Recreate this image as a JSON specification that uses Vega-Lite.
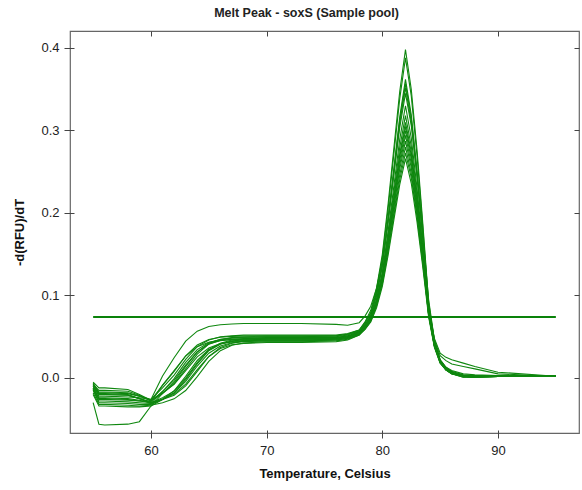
{
"$schema": "https://vega.github.io/schema/vega-lite/v6.json",
"width": 509, "height": 402,
"autosize": {"type": "none"},
"padding": {"left": 70, "top": 31, "right": 3, "bottom": 57},
"background": "white",
"title": {"text": "Melt Peak - soxS (Sample pool)", "fontSize": 12.5, "fontWeight": "bold", "font": "Liberation Sans", "color": "#222", "offset": 11, "dx": -18},
"config": {
  "view": {"stroke": "#666", "strokeWidth": 1.2},
  "axis": {"grid": false, "domain": false, "labelFont": "Liberation Sans", "titleFont": "Liberation Sans", "labelFontSize": 13, "titleFontSize": 13, "titleFontWeight": "bold", "labelColor": "#222", "titleColor": "#111", "tickColor": "#444", "tickWidth": 1}
},
"layer": [
{
"data": {"values": [
{"c":1,"t":55,"v":-0.008},{"c":1,"t":55.5,"v":-0.015},{"c":1,"t":56,"v":-0.015},{"c":1,"t":58,"v":-0.016},{"c":1,"t":59,"v":-0.021},{"c":1,"t":60,"v":-0.028},{"c":1,"t":61,"v":-0.019},{"c":1,"t":62,"v":-0.007},{"c":1,"t":63,"v":0.011},{"c":1,"t":64,"v":0.029},{"c":1,"t":65,"v":0.041},{"c":1,"t":66,"v":0.046},{"c":1,"t":67,"v":0.049},{"c":1,"t":68,"v":0.0495},{"c":1,"t":70,"v":0.05},{"c":1,"t":73,"v":0.05},{"c":1,"t":76,"v":0.051},{"c":1,"t":77,"v":0.053},{"c":1,"t":78,"v":0.058},{"c":1,"t":78.5,"v":0.068},{"c":1,"t":79,"v":0.082},{"c":1,"t":79.5,"v":0.109},{"c":1,"t":80,"v":0.15},{"c":1,"t":80.5,"v":0.211},{"c":1,"t":81,"v":0.279},{"c":1,"t":81.5,"v":0.347},{"c":1,"t":82,"v":0.398},{"c":1,"t":82.5,"v":0.35},{"c":1,"t":83,"v":0.276},{"c":1,"t":83.5,"v":0.187},{"c":1,"t":84,"v":0.092},{"c":1,"t":84.5,"v":0.045},{"c":1,"t":85,"v":0.022},{"c":1,"t":85.5,"v":0.013},{"c":1,"t":86,"v":0.009},{"c":1,"t":87,"v":0.005},{"c":1,"t":88,"v":0.004},{"c":1,"t":90,"v":0.003},{"c":1,"t":95,"v":0.002},
{"c":2,"t":55,"v":-0.01},{"c":2,"t":55.5,"v":-0.02},{"c":2,"t":56,"v":-0.02},{"c":2,"t":58,"v":-0.021},{"c":2,"t":59,"v":-0.025},{"c":2,"t":60,"v":-0.03},{"c":2,"t":61,"v":-0.024},{"c":2,"t":62,"v":-0.016},{"c":2,"t":63,"v":-0.0005},{"c":2,"t":64,"v":0.0185},{"c":2,"t":65,"v":0.034},{"c":2,"t":66,"v":0.042},{"c":2,"t":67,"v":0.046},{"c":2,"t":68,"v":0.047},{"c":2,"t":70,"v":0.048},{"c":2,"t":73,"v":0.048},{"c":2,"t":76,"v":0.049},{"c":2,"t":77,"v":0.051},{"c":2,"t":78,"v":0.056},{"c":2,"t":78.5,"v":0.066},{"c":2,"t":79,"v":0.079},{"c":2,"t":79.5,"v":0.106},{"c":2,"t":80,"v":0.146},{"c":2,"t":80.5,"v":0.205},{"c":2,"t":81,"v":0.272},{"c":2,"t":81.5,"v":0.338},{"c":2,"t":82,"v":0.388},{"c":2,"t":82.5,"v":0.342},{"c":2,"t":83,"v":0.269},{"c":2,"t":83.5,"v":0.182},{"c":2,"t":84,"v":0.089},{"c":2,"t":84.5,"v":0.043},{"c":2,"t":85,"v":0.021},{"c":2,"t":85.5,"v":0.012},{"c":2,"t":86,"v":0.007},{"c":2,"t":87,"v":0.003},{"c":2,"t":88,"v":0.003},{"c":2,"t":90,"v":0.003},{"c":2,"t":95,"v":0.002},
{"c":3,"t":55,"v":-0.012},{"c":3,"t":55.5,"v":-0.025},{"c":3,"t":56,"v":-0.025},{"c":3,"t":58,"v":-0.026},{"c":3,"t":59,"v":-0.028},{"c":3,"t":60,"v":-0.03},{"c":3,"t":61,"v":-0.026},{"c":3,"t":62,"v":-0.021},{"c":3,"t":63,"v":-0.0096},{"c":3,"t":64,"v":0.008},{"c":3,"t":65,"v":0.026},{"c":3,"t":66,"v":0.037},{"c":3,"t":67,"v":0.042},{"c":3,"t":68,"v":0.045},{"c":3,"t":70,"v":0.046},{"c":3,"t":73,"v":0.046},{"c":3,"t":76,"v":0.047},{"c":3,"t":77,"v":0.049},{"c":3,"t":78,"v":0.054},{"c":3,"t":78.5,"v":0.063},{"c":3,"t":79,"v":0.076},{"c":3,"t":79.5,"v":0.1},{"c":3,"t":80,"v":0.137},{"c":3,"t":80.5,"v":0.193},{"c":3,"t":81,"v":0.254},{"c":3,"t":81.5,"v":0.316},{"c":3,"t":82,"v":0.362},{"c":3,"t":82.5,"v":0.319},{"c":3,"t":83,"v":0.251},{"c":3,"t":83.5,"v":0.171},{"c":3,"t":84,"v":0.085},{"c":3,"t":84.5,"v":0.048},{"c":3,"t":85,"v":0.03},{"c":3,"t":85.5,"v":0.025},{"c":3,"t":86,"v":0.022},{"c":3,"t":87,"v":0.018},{"c":3,"t":88,"v":0.014},{"c":3,"t":90,"v":0.007},{"c":3,"t":95,"v":0.002},
{"c":4,"t":55,"v":-0.006},{"c":4,"t":55.5,"v":-0.018},{"c":4,"t":56,"v":-0.018},{"c":4,"t":58,"v":-0.019},{"c":4,"t":59,"v":-0.022},{"c":4,"t":60,"v":-0.026},{"c":4,"t":61,"v":-0.012},{"c":4,"t":62,"v":0.0035},{"c":4,"t":63,"v":0.0225},{"c":4,"t":64,"v":0.038},{"c":4,"t":65,"v":0.046},{"c":4,"t":66,"v":0.05},{"c":4,"t":67,"v":0.051},{"c":4,"t":68,"v":0.052},{"c":4,"t":70,"v":0.052},{"c":4,"t":73,"v":0.052},{"c":4,"t":76,"v":0.052},{"c":4,"t":77,"v":0.054},{"c":4,"t":78,"v":0.058},{"c":4,"t":78.5,"v":0.067},{"c":4,"t":79,"v":0.079},{"c":4,"t":79.5,"v":0.103},{"c":4,"t":80,"v":0.139},{"c":4,"t":80.5,"v":0.193},{"c":4,"t":81,"v":0.252},{"c":4,"t":81.5,"v":0.312},{"c":4,"t":82,"v":0.357},{"c":4,"t":82.5,"v":0.315},{"c":4,"t":83,"v":0.249},{"c":4,"t":83.5,"v":0.172},{"c":4,"t":84,"v":0.088},{"c":4,"t":84.5,"v":0.041},{"c":4,"t":85,"v":0.02},{"c":4,"t":85.5,"v":0.011},{"c":4,"t":86,"v":0.006},{"c":4,"t":87,"v":0.002},{"c":4,"t":88,"v":0.002},{"c":4,"t":90,"v":0.003},{"c":4,"t":95,"v":0.003},
{"c":5,"t":55,"v":-0.015},{"c":5,"t":55.5,"v":-0.03},{"c":5,"t":56,"v":-0.03},{"c":5,"t":58,"v":-0.031},{"c":5,"t":59,"v":-0.032},{"c":5,"t":60,"v":-0.032},{"c":5,"t":61,"v":-0.026},{"c":5,"t":62,"v":-0.018},{"c":5,"t":63,"v":-0.002},{"c":5,"t":64,"v":0.017},{"c":5,"t":65,"v":0.033},{"c":5,"t":66,"v":0.041},{"c":5,"t":67,"v":0.045},{"c":5,"t":68,"v":0.046},{"c":5,"t":70,"v":0.047},{"c":5,"t":73,"v":0.047},{"c":5,"t":76,"v":0.048},{"c":5,"t":77,"v":0.05},{"c":5,"t":78,"v":0.055},{"c":5,"t":78.5,"v":0.064},{"c":5,"t":79,"v":0.076},{"c":5,"t":79.5,"v":0.1},{"c":5,"t":80,"v":0.135},{"c":5,"t":80.5,"v":0.189},{"c":5,"t":81,"v":0.248},{"c":5,"t":81.5,"v":0.308},{"c":5,"t":82,"v":0.352},{"c":5,"t":82.5,"v":0.31},{"c":5,"t":83,"v":0.245},{"c":5,"t":83.5,"v":0.168},{"c":5,"t":84,"v":0.085},{"c":5,"t":84.5,"v":0.046},{"c":5,"t":85,"v":0.027},{"c":5,"t":85.5,"v":0.021},{"c":5,"t":86,"v":0.017},{"c":5,"t":87,"v":0.014},{"c":5,"t":88,"v":0.011},{"c":5,"t":90,"v":0.005},{"c":5,"t":95,"v":0.002},
{"c":6,"t":55,"v":-0.01},{"c":6,"t":55.5,"v":-0.022},{"c":6,"t":56,"v":-0.022},{"c":6,"t":58,"v":-0.023},{"c":6,"t":59,"v":-0.024},{"c":6,"t":60,"v":-0.026},{"c":6,"t":61,"v":0.0025},{"c":6,"t":62,"v":0.0246},{"c":6,"t":63,"v":0.0447},{"c":6,"t":64,"v":0.0568},{"c":6,"t":65,"v":0.0624},{"c":6,"t":66,"v":0.0646},{"c":6,"t":67,"v":0.0655},{"c":6,"t":68,"v":0.066},{"c":6,"t":70,"v":0.066},{"c":6,"t":73,"v":0.066},{"c":6,"t":76,"v":0.065},{"c":6,"t":77,"v":0.064},{"c":6,"t":78,"v":0.067},{"c":6,"t":78.5,"v":0.075},{"c":6,"t":79,"v":0.087},{"c":6,"t":79.5,"v":0.109},{"c":6,"t":80,"v":0.142},{"c":6,"t":80.5,"v":0.192},{"c":6,"t":81,"v":0.248},{"c":6,"t":81.5,"v":0.303},{"c":6,"t":82,"v":0.345},{"c":6,"t":82.5,"v":0.306},{"c":6,"t":83,"v":0.245},{"c":6,"t":83.5,"v":0.173},{"c":6,"t":84,"v":0.095},{"c":6,"t":84.5,"v":0.046},{"c":6,"t":85,"v":0.022},{"c":6,"t":85.5,"v":0.013},{"c":6,"t":86,"v":0.008},{"c":6,"t":87,"v":0.004},{"c":6,"t":88,"v":0.003},{"c":6,"t":90,"v":0.003},{"c":6,"t":95,"v":0.002},
{"c":7,"t":55,"v":-0.005},{"c":7,"t":55.5,"v":-0.012},{"c":7,"t":56,"v":-0.012},{"c":7,"t":58,"v":-0.014},{"c":7,"t":59,"v":-0.02},{"c":7,"t":60,"v":-0.027},{"c":7,"t":61,"v":-0.018},{"c":7,"t":62,"v":-0.0076},{"c":7,"t":63,"v":0.009},{"c":7,"t":64,"v":0.0256},{"c":7,"t":65,"v":0.0364},{"c":7,"t":66,"v":0.0416},{"c":7,"t":67,"v":0.0437},{"c":7,"t":68,"v":0.0445},{"c":7,"t":70,"v":0.045},{"c":7,"t":73,"v":0.045},{"c":7,"t":76,"v":0.046},{"c":7,"t":77,"v":0.048},{"c":7,"t":78,"v":0.053},{"c":7,"t":78.5,"v":0.061},{"c":7,"t":79,"v":0.072},{"c":7,"t":79.5,"v":0.095},{"c":7,"t":80,"v":0.128},{"c":7,"t":80.5,"v":0.178},{"c":7,"t":81,"v":0.233},{"c":7,"t":81.5,"v":0.289},{"c":7,"t":82,"v":0.33},{"c":7,"t":82.5,"v":0.291},{"c":7,"t":83,"v":0.23},{"c":7,"t":83.5,"v":0.158},{"c":7,"t":84,"v":0.081},{"c":7,"t":84.5,"v":0.04},{"c":7,"t":85,"v":0.019},{"c":7,"t":85.5,"v":0.01},{"c":7,"t":86,"v":0.005},{"c":7,"t":87,"v":0.001},{"c":7,"t":88,"v":0.001},{"c":7,"t":90,"v":0.002},{"c":7,"t":95,"v":0.002},
{"c":8,"t":55,"v":-0.014},{"c":8,"t":55.5,"v":-0.028},{"c":8,"t":56,"v":-0.028},{"c":8,"t":58,"v":-0.029},{"c":8,"t":59,"v":-0.03},{"c":8,"t":60,"v":-0.031},{"c":8,"t":61,"v":-0.0164},{"c":8,"t":62,"v":-0.0008},{"c":8,"t":63,"v":0.0188},{"c":8,"t":64,"v":0.0344},{"c":8,"t":65,"v":0.0429},{"c":8,"t":66,"v":0.0467},{"c":8,"t":67,"v":0.0481},{"c":8,"t":68,"v":0.0486},{"c":8,"t":70,"v":0.049},{"c":8,"t":73,"v":0.049},{"c":8,"t":76,"v":0.049},{"c":8,"t":77,"v":0.051},{"c":8,"t":78,"v":0.056},{"c":8,"t":78.5,"v":0.064},{"c":8,"t":79,"v":0.074},{"c":8,"t":79.5,"v":0.095},{"c":8,"t":80,"v":0.127},{"c":8,"t":80.5,"v":0.174},{"c":8,"t":81,"v":0.226},{"c":8,"t":81.5,"v":0.279},{"c":8,"t":82,"v":0.318},{"c":8,"t":82.5,"v":0.281},{"c":8,"t":83,"v":0.224},{"c":8,"t":83.5,"v":0.156},{"c":8,"t":84,"v":0.082},{"c":8,"t":84.5,"v":0.042},{"c":8,"t":85,"v":0.021},{"c":8,"t":85.5,"v":0.012},{"c":8,"t":86,"v":0.007},{"c":8,"t":87,"v":0.003},{"c":8,"t":88,"v":0.002},{"c":8,"t":90,"v":0.003},{"c":8,"t":95,"v":0.002},
{"c":9,"t":55,"v":-0.018},{"c":9,"t":55.5,"v":-0.032},{"c":9,"t":56,"v":-0.032},{"c":9,"t":58,"v":-0.033},{"c":9,"t":59,"v":-0.034},{"c":9,"t":60,"v":-0.033},{"c":9,"t":61,"v":-0.03},{"c":9,"t":62,"v":-0.0253},{"c":9,"t":63,"v":-0.0152},{"c":9,"t":64,"v":0.0017},{"c":9,"t":65,"v":0.0201},{"c":9,"t":66,"v":0.0331},{"c":9,"t":67,"v":0.0396},{"c":9,"t":68,"v":0.0423},{"c":9,"t":70,"v":0.044},{"c":9,"t":73,"v":0.044},{"c":9,"t":76,"v":0.045},{"c":9,"t":77,"v":0.047},{"c":9,"t":78,"v":0.052},{"c":9,"t":78.5,"v":0.06},{"c":9,"t":79,"v":0.07},{"c":9,"t":79.5,"v":0.091},{"c":9,"t":80,"v":0.122},{"c":9,"t":80.5,"v":0.168},{"c":9,"t":81,"v":0.22},{"c":9,"t":81.5,"v":0.271},{"c":9,"t":82,"v":0.31},{"c":9,"t":82.5,"v":0.274},{"c":9,"t":83,"v":0.217},{"c":9,"t":83.5,"v":0.15},{"c":9,"t":84,"v":0.078},{"c":9,"t":84.5,"v":0.039},{"c":9,"t":85,"v":0.019},{"c":9,"t":85.5,"v":0.011},{"c":9,"t":86,"v":0.006},{"c":9,"t":87,"v":0.002},{"c":9,"t":88,"v":0.001},{"c":9,"t":90,"v":0.002},{"c":9,"t":95,"v":0.002},
{"c":10,"t":55,"v":-0.03},{"c":10,"t":55.5,"v":-0.056},{"c":10,"t":56,"v":-0.057},{"c":10,"t":58,"v":-0.056},{"c":10,"t":59,"v":-0.053},{"c":10,"t":60,"v":-0.034},{"c":10,"t":61,"v":-0.0186},{"c":10,"t":62,"v":-0.0052},{"c":10,"t":63,"v":0.014},{"c":10,"t":64,"v":0.0315},{"c":10,"t":65,"v":0.042},{"c":10,"t":66,"v":0.0469},{"c":10,"t":67,"v":0.0488},{"c":10,"t":68,"v":0.0496},{"c":10,"t":70,"v":0.05},{"c":10,"t":73,"v":0.05},{"c":10,"t":76,"v":0.05},{"c":10,"t":77,"v":0.052},{"c":10,"t":78,"v":0.057},{"c":10,"t":78.5,"v":0.064},{"c":10,"t":79,"v":0.074},{"c":10,"t":79.5,"v":0.094},{"c":10,"t":80,"v":0.124},{"c":10,"t":80.5,"v":0.169},{"c":10,"t":81,"v":0.218},{"c":10,"t":81.5,"v":0.268},{"c":10,"t":82,"v":0.305},{"c":10,"t":82.5,"v":0.27},{"c":10,"t":83,"v":0.216},{"c":10,"t":83.5,"v":0.151},{"c":10,"t":84,"v":0.082},{"c":10,"t":84.5,"v":0.041},{"c":10,"t":85,"v":0.02},{"c":10,"t":85.5,"v":0.011},{"c":10,"t":86,"v":0.006},{"c":10,"t":87,"v":0.003},{"c":10,"t":88,"v":0.002},{"c":10,"t":90,"v":0.003},{"c":10,"t":95,"v":0.003},
{"c":11,"t":55,"v":-0.008},{"c":11,"t":55.5,"v":-0.02},{"c":11,"t":56,"v":-0.02},{"c":11,"t":58,"v":-0.021},{"c":11,"t":59,"v":-0.025},{"c":11,"t":60,"v":-0.029},{"c":11,"t":61,"v":-0.0086},{"c":11,"t":62,"v":0.009},{"c":11,"t":63,"v":0.0266},{"c":11,"t":64,"v":0.038},{"c":11,"t":65,"v":0.0434},{"c":11,"t":66,"v":0.0456},{"c":11,"t":67,"v":0.0465},{"c":11,"t":68,"v":0.0469},{"c":11,"t":70,"v":0.047},{"c":11,"t":73,"v":0.047},{"c":11,"t":76,"v":0.048},{"c":11,"t":77,"v":0.05},{"c":11,"t":78,"v":0.055},{"c":11,"t":78.5,"v":0.062},{"c":11,"t":79,"v":0.072},{"c":11,"t":79.5,"v":0.092},{"c":11,"t":80,"v":0.121},{"c":11,"t":80.5,"v":0.165},{"c":11,"t":81,"v":0.214},{"c":11,"t":81.5,"v":0.263},{"c":11,"t":82,"v":0.3},{"c":11,"t":82.5,"v":0.266},{"c":11,"t":83,"v":0.212},{"c":11,"t":83.5,"v":0.148},{"c":11,"t":84,"v":0.08},{"c":11,"t":84.5,"v":0.04},{"c":11,"t":85,"v":0.019},{"c":11,"t":85.5,"v":0.01},{"c":11,"t":86,"v":0.005},{"c":11,"t":87,"v":0.002},{"c":11,"t":88,"v":0.002},{"c":11,"t":90,"v":0.002},{"c":11,"t":95,"v":0.002},
{"c":12,"t":55,"v":-0.012},{"c":12,"t":55.5,"v":-0.024},{"c":12,"t":56,"v":-0.024},{"c":12,"t":58,"v":-0.025},{"c":12,"t":59,"v":-0.027},{"c":12,"t":60,"v":-0.03},{"c":12,"t":61,"v":-0.0258},{"c":12,"t":62,"v":-0.0196},{"c":12,"t":63,"v":-0.0074},{"c":12,"t":64,"v":0.0102},{"c":12,"t":65,"v":0.0261},{"c":12,"t":66,"v":0.0357},{"c":12,"t":67,"v":0.0402},{"c":12,"t":68,"v":0.0419},{"c":12,"t":70,"v":0.043},{"c":12,"t":73,"v":0.043},{"c":12,"t":76,"v":0.044},{"c":12,"t":77,"v":0.046},{"c":12,"t":78,"v":0.052},{"c":12,"t":78.5,"v":0.059},{"c":12,"t":79,"v":0.069},{"c":12,"t":79.5,"v":0.088},{"c":12,"t":80,"v":0.117},{"c":12,"t":80.5,"v":0.161},{"c":12,"t":81,"v":0.209},{"c":12,"t":81.5,"v":0.258},{"c":12,"t":82,"v":0.294},{"c":12,"t":82.5,"v":0.26},{"c":12,"t":83,"v":0.207},{"c":12,"t":83.5,"v":0.144},{"c":12,"t":84,"v":0.076},{"c":12,"t":84.5,"v":0.038},{"c":12,"t":85,"v":0.018},{"c":12,"t":85.5,"v":0.01},{"c":12,"t":86,"v":0.005},{"c":12,"t":87,"v":0.002},{"c":12,"t":88,"v":0.001},{"c":12,"t":90,"v":0.002},{"c":12,"t":95,"v":0.002},
{"c":13,"t":55,"v":-0.007},{"c":13,"t":55.5,"v":-0.017},{"c":13,"t":56,"v":-0.017},{"c":13,"t":58,"v":-0.018},{"c":13,"t":59,"v":-0.022},{"c":13,"t":60,"v":-0.027},{"c":13,"t":61,"v":-0.009},{"c":13,"t":62,"v":0.0081},{"c":13,"t":63,"v":0.0268},{"c":13,"t":64,"v":0.0399},{"c":13,"t":65,"v":0.0466},{"c":13,"t":66,"v":0.0493},{"c":13,"t":67,"v":0.0504},{"c":13,"t":68,"v":0.0508},{"c":13,"t":70,"v":0.051},{"c":13,"t":73,"v":0.051},{"c":13,"t":76,"v":0.051},{"c":13,"t":77,"v":0.053},{"c":13,"t":78,"v":0.057},{"c":13,"t":78.5,"v":0.064},{"c":13,"t":79,"v":0.073},{"c":13,"t":79.5,"v":0.092},{"c":13,"t":80,"v":0.119},{"c":13,"t":80.5,"v":0.161},{"c":13,"t":81,"v":0.207},{"c":13,"t":81.5,"v":0.253},{"c":13,"t":82,"v":0.287},{"c":13,"t":82.5,"v":0.255},{"c":13,"t":83,"v":0.204},{"c":13,"t":83.5,"v":0.144},{"c":13,"t":84,"v":0.08},{"c":13,"t":84.5,"v":0.04},{"c":13,"t":85,"v":0.02},{"c":13,"t":85.5,"v":0.011},{"c":13,"t":86,"v":0.006},{"c":13,"t":87,"v":0.003},{"c":13,"t":88,"v":0.002},{"c":13,"t":90,"v":0.003},{"c":13,"t":95,"v":0.002},
{"c":14,"t":55,"v":-0.02},{"c":14,"t":55.5,"v":-0.034},{"c":14,"t":56,"v":-0.034},{"c":14,"t":58,"v":-0.035},{"c":14,"t":59,"v":-0.035},{"c":14,"t":60,"v":-0.034},{"c":14,"t":61,"v":-0.026},{"c":14,"t":62,"v":-0.0155},{"c":14,"t":63,"v":0.002},{"c":14,"t":64,"v":0.0212},{"c":14,"t":65,"v":0.0346},{"c":14,"t":66,"v":0.0414},{"c":14,"t":67,"v":0.0442},{"c":14,"t":68,"v":0.0454},{"c":14,"t":70,"v":0.046},{"c":14,"t":73,"v":0.046},{"c":14,"t":76,"v":0.047},{"c":14,"t":77,"v":0.049},{"c":14,"t":78,"v":0.054},{"c":14,"t":78.5,"v":0.061},{"c":14,"t":79,"v":0.07},{"c":14,"t":79.5,"v":0.088},{"c":14,"t":80,"v":0.115},{"c":14,"t":80.5,"v":0.156},{"c":14,"t":81,"v":0.201},{"c":14,"t":81.5,"v":0.246},{"c":14,"t":82,"v":0.28},{"c":14,"t":82.5,"v":0.248},{"c":14,"t":83,"v":0.199},{"c":14,"t":83.5,"v":0.14},{"c":14,"t":84,"v":0.077},{"c":14,"t":84.5,"v":0.039},{"c":14,"t":85,"v":0.019},{"c":14,"t":85.5,"v":0.01},{"c":14,"t":86,"v":0.005},{"c":14,"t":87,"v":0.001},{"c":14,"t":88,"v":0.001},{"c":14,"t":90,"v":0.002},{"c":14,"t":95,"v":0.002},
{"c":15,"t":55,"v":-0.013},{"c":15,"t":55.5,"v":-0.026},{"c":15,"t":56,"v":-0.026},{"c":15,"t":58,"v":-0.027},{"c":15,"t":59,"v":-0.028},{"c":15,"t":60,"v":-0.028},{"c":15,"t":61,"v":-0.0163},{"c":15,"t":62,"v":-0.0028},{"c":15,"t":63,"v":0.0156},{"c":15,"t":64,"v":0.0317},{"c":15,"t":65,"v":0.0411},{"c":15,"t":66,"v":0.0453},{"c":15,"t":67,"v":0.047},{"c":15,"t":68,"v":0.0477},{"c":15,"t":70,"v":0.048},{"c":15,"t":73,"v":0.048},{"c":15,"t":76,"v":0.048},{"c":15,"t":77,"v":0.05},{"c":15,"t":78,"v":0.055},{"c":15,"t":78.5,"v":0.062},{"c":15,"t":79,"v":0.07},{"c":15,"t":79.5,"v":0.088},{"c":15,"t":80,"v":0.114},{"c":15,"t":80.5,"v":0.153},{"c":15,"t":81,"v":0.197},{"c":15,"t":81.5,"v":0.24},{"c":15,"t":82,"v":0.273},{"c":15,"t":82.5,"v":0.243},{"c":15,"t":83,"v":0.195},{"c":15,"t":83.5,"v":0.138},{"c":15,"t":84,"v":0.077},{"c":15,"t":84.5,"v":0.039},{"c":15,"t":85,"v":0.019},{"c":15,"t":85.5,"v":0.01},{"c":15,"t":86,"v":0.006},{"c":15,"t":87,"v":0.003},{"c":15,"t":88,"v":0.002},{"c":15,"t":90,"v":0.003},{"c":15,"t":95,"v":0.002},
{"c":16,"t":55,"v":-0.009},{"c":16,"t":55.5,"v":-0.019},{"c":16,"t":56,"v":-0.019},{"c":16,"t":58,"v":-0.02},{"c":16,"t":59,"v":-0.025},{"c":16,"t":60,"v":-0.031},{"c":16,"t":61,"v":-0.0258},{"c":16,"t":62,"v":-0.0182},{"c":16,"t":63,"v":-0.0041},{"c":16,"t":64,"v":0.0145},{"c":16,"t":65,"v":0.03},{"c":16,"t":66,"v":0.0387},{"c":16,"t":67,"v":0.0426},{"c":16,"t":68,"v":0.0441},{"c":16,"t":70,"v":0.045},{"c":16,"t":73,"v":0.045},{"c":16,"t":76,"v":0.046},{"c":16,"t":77,"v":0.048},{"c":16,"t":78,"v":0.053},{"c":16,"t":78.5,"v":0.059},{"c":16,"t":79,"v":0.068},{"c":16,"t":79.5,"v":0.085},{"c":16,"t":80,"v":0.111},{"c":16,"t":80.5,"v":0.149},{"c":16,"t":81,"v":0.192},{"c":16,"t":81.5,"v":0.234},{"c":16,"t":82,"v":0.266},{"c":16,"t":82.5,"v":0.236},{"c":16,"t":83,"v":0.189},{"c":16,"t":83.5,"v":0.134},{"c":16,"t":84,"v":0.074},{"c":16,"t":84.5,"v":0.037},{"c":16,"t":85,"v":0.018},{"c":16,"t":85.5,"v":0.01},{"c":16,"t":86,"v":0.005},{"c":16,"t":87,"v":0.002},{"c":16,"t":88,"v":0.001},{"c":16,"t":90,"v":0.002},{"c":16,"t":95,"v":0.002}
]},
"mark": {"type": "line", "color": "#0f870f", "strokeWidth": 1.1},
"encoding": {
  "x": {"field": "t", "type": "quantitative", "scale": {"domain": [53, 97], "nice": false, "zero": false},
        "axis": {"orient": "bottom", "values": [60, 70, 80, 90], "title": "Temperature, Celsius", "offset": -3, "tickSize": 8, "labelPadding": 6, "titlePadding": 10}},
  "y": {"field": "v", "type": "quantitative", "scale": {"domain": [-0.0667, 0.4206], "nice": false, "zero": false},
        "axis": {"orient": "left", "values": [0, 0.1, 0.2, 0.3, 0.4], "format": ".1f", "title": "-d(RFU)/dT", "offset": -4, "tickSize": 10, "labelPadding": 5, "titlePadding": 14}},
  "detail": {"field": "c", "type": "nominal"}
}
},
{
"data": {"values": [{"t": 55, "v": 0.074}, {"t": 95, "v": 0.074}]},
"mark": {"type": "line", "color": "#0a820a", "strokeWidth": 2},
"encoding": {
  "x": {"field": "t", "type": "quantitative", "scale": {"domain": [53, 97], "nice": false, "zero": false},
        "axis": {"orient": "top", "values": [60, 70, 80, 90], "labels": false, "title": null, "offset": -5, "tickSize": 5}},
  "y": {"field": "v", "type": "quantitative", "scale": {"domain": [-0.0667, 0.4206], "nice": false, "zero": false},
        "axis": {"orient": "right", "values": [0, 0.1, 0.2, 0.3, 0.4], "labels": false, "title": null, "offset": -5, "tickSize": 5}}
}
}
],
"resolve": {"axis": {"x": "independent", "y": "independent"}}
}
